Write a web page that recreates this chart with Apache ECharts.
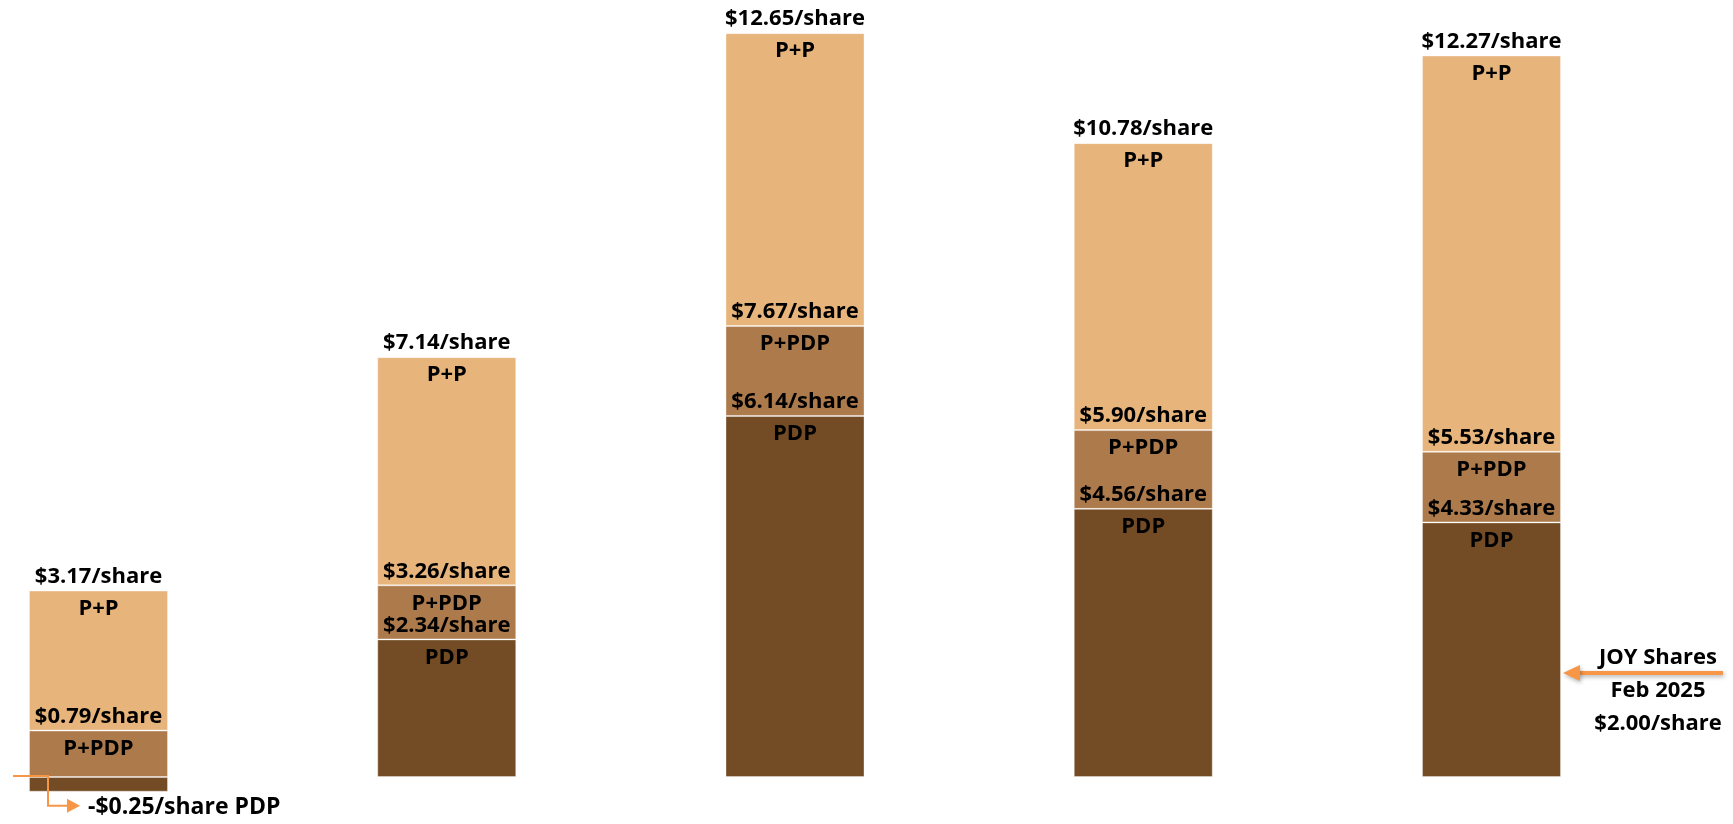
<!DOCTYPE html>
<html>
<head>
<meta charset="utf-8">
<script src="https://cdn.jsdelivr.net/npm/echarts@6/dist/echarts.min.js"></script>
<style>
  html, body { margin: 0; padding: 0; background: #ffffff; }
  #chart { width: 1733px; height: 824px; }
</style>
</head>
<body>
<div id="chart"></div>
<script>
// Net asset value per share by reserve category, one stacked column per case.
const categories = ['Case 1', 'Case 2', 'Case 3', 'Case 4', 'Case 5'];
const tierNames = ['PDP', 'P+PDP', 'P+P'];
// Cumulative $/share at the top of each tier
const pdpValue = [-0.25, 2.34, 6.14, 4.56, 4.33];
const pPlusPdpValue = [0.79, 3.26, 7.67, 5.90, 5.53];
const pPlusPValue = [3.17, 7.14, 12.65, 10.78, 12.27];
// Market reference
const joyTicker = 'JOY Shares';
const joyDate = 'Feb 2025';
const joyPrice = 2.00;

const tierColors = ['#734c25', '#ad7a4c', '#e7b47c'];
const FONT = '"Open Sans", "Noto Sans", sans-serif';
const TEXT = '#000000';

function money(v) {
  return (v < 0 ? '-$' : '$') + Math.abs(v).toFixed(2) + '/share';
}

// Segment heights derived from the cumulative tiers; a negative PDP stacks below zero.
const cumulative = [pdpValue, pPlusPdpValue, pPlusPValue];
const segPdp = pdpValue.slice();
const segMid = pPlusPdpValue.map((v, i) => +(v - Math.max(pdpValue[i], 0)).toFixed(2));
const segTop = pPlusPValue.map((v, i) => +(v - pPlusPdpValue[i]).toFixed(2));
const segments = [segPdp, segMid, segTop];

function tierSeries(idx) {
  return {
    name: tierNames[idx],
    type: 'bar',
    stack: 'total',
    barWidth: 139,
    data: segments[idx].map((v, i) => ({
      value: v,
      label: { show: cumulative[idx][i] > 0 }
    })),
    itemStyle: {
      color: tierColors[idx],
      borderColor: 'rgba(255,255,255,0.35)',
      borderWidth: 1
    },
    label: {
      show: true,
      position: 'insideTop',
      distance: 0,
      offset: [0, -30],
      formatter: p => '{v|' + money(cumulative[idx][p.dataIndex]) + '}\n{n|' + tierNames[idx] + '}',
      rich: {
        v: { color: TEXT, fontFamily: FONT, fontWeight: 'bold', fontSize: 22, lineHeight: 32 },
        n: { color: TEXT, fontFamily: FONT, fontWeight: 'bold', fontSize: 22, lineHeight: 32 }
      }
    },
    emphasis: { disabled: true },
    silent: true
  };
}

const chart = echarts.init(document.getElementById('chart'), null, { renderer: 'canvas' });

chart.setOption({
  animation: false,
  backgroundColor: '#ffffff',
  grid: { left: 98.5, width: 1393, top: 12.6, height: 793.8, containLabel: false },
  xAxis: {
    type: 'category',
    data: categories,
    boundaryGap: false,
    show: false
  },
  yAxis: {
    type: 'value',
    min: -0.5,
    max: 13,
    show: false,
    splitLine: { show: false }
  },
  series: [tierSeries(0), tierSeries(1), tierSeries(2)]
});

// Callouts: negative PDP leader on the first column, market price arrow by the last.
const ORANGE = '#f79646';
const xFirst = chart.convertToPixel({ xAxisIndex: 0 }, 0);
const xLast = chart.convertToPixel({ xAxisIndex: 0 }, categories.length - 1);
const yZero = chart.convertToPixel({ yAxisIndex: 0 }, 0);
const yNeg = chart.convertToPixel({ yAxisIndex: 0 }, pdpValue[0]);
const halfBar = 69.5;

const leadX0 = xFirst - halfBar - 16;
const leadX1 = xFirst - halfBar + 19;
const leadY0 = yZero - 1;
const leadY1 = yNeg + 14;
const leadTip = xFirst - halfBar + 51;

const arrowY = 673;
const arrowTip = xLast + halfBar + 2;
const arrowTail = 1723;
const noteX = 1658;
const noteLines = [joyTicker, joyDate, money(joyPrice)];
const noteY = [658, 691, 724];

const graphics = [
  {
    type: 'polyline',
    z: 100,
    shape: { points: [[leadX0, leadY0], [leadX1, leadY0], [leadX1, leadY1], [leadTip - 12, leadY1]] },
    style: { stroke: ORANGE, lineWidth: 2, fill: null },
    silent: true
  },
  {
    type: 'polygon',
    z: 100,
    shape: { points: [[leadTip, leadY1], [leadTip - 13, leadY1 - 7], [leadTip - 13, leadY1 + 7]] },
    style: { fill: ORANGE },
    silent: true
  },
  {
    type: 'text',
    z: 100,
    x: leadTip + 8,
    y: leadY1 + 2,
    style: {
      text: money(pdpValue[0]) + ' ' + tierNames[0],
      fill: TEXT, fontFamily: FONT, fontWeight: 'bold', fontSize: 23,
      align: 'left', verticalAlign: 'middle'
    },
    silent: true
  },
  {
    type: 'line',
    z: 100,
    shape: { x1: arrowTail, y1: arrowY, x2: arrowTip + 14, y2: arrowY },
    style: {
      stroke: ORANGE, lineWidth: 4,
      shadowBlur: 4, shadowColor: 'rgba(0,0,0,0.3)', shadowOffsetX: 1, shadowOffsetY: 2
    },
    silent: true
  },
  {
    type: 'polygon',
    z: 100,
    shape: { points: [[arrowTip, arrowY], [arrowTip + 17, arrowY - 8], [arrowTip + 17, arrowY + 8]] },
    style: {
      fill: ORANGE,
      shadowBlur: 4, shadowColor: 'rgba(0,0,0,0.3)', shadowOffsetX: 1, shadowOffsetY: 2
    },
    silent: true
  }
];

noteLines.forEach((t, i) => {
  graphics.push({
    type: 'text',
    z: 100,
    x: noteX,
    y: noteY[i],
    style: {
      text: t,
      fill: TEXT, fontFamily: FONT, fontWeight: 'bold', fontSize: 22,
      align: 'center', verticalAlign: 'middle'
    },
    silent: true
  });
});

chart.setOption({ graphic: graphics });
</script>
</body>
</html>
